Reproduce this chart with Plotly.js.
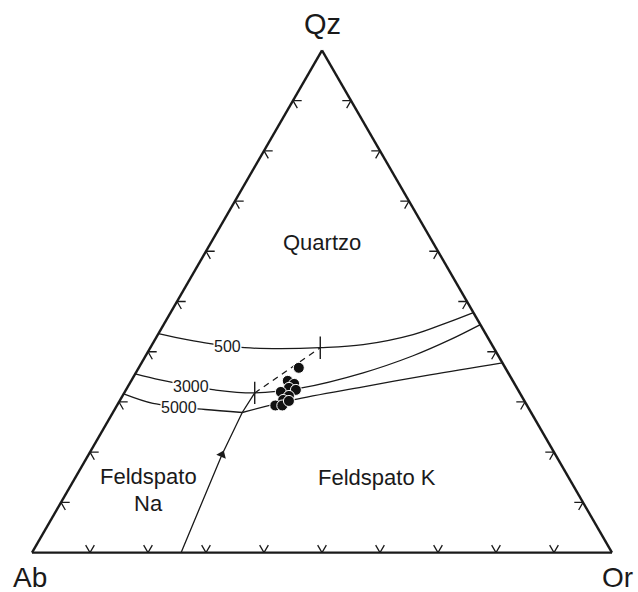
<!DOCTYPE html>
<html>
<head>
<meta charset="utf-8">
<script src="https://cdn.plot.ly/plotly-3.0.1.min.js"></script>
<style>
  html, body { margin: 0; padding: 0; background: #fff; }
  #chart { width: 638px; height: 592px; }
</style>
</head>
<body>
<div id="chart"></div>
<script>
// Qz-Ab-Or ternary, values in % (Ab = 100 - Qz - Or, filled by Plotly from sum)
const tickSteps = [10, 20, 30, 40, 50, 60, 70, 80, 90];

// isobaric minimum curves
const curve500Qz = [43.6, 42.4, 41.6, 40.8, 40.6, 40.8, 41.4, 43.4, 45.8, 47.8];
const curve500Or = [0, 5.5, 9.9, 16.3, 22.5, 29.3, 36.4, 44.0, 48.7, 52.2];
const curve3000Qz = [35.6, 34.4, 33.2, 32.4, 31.8, 32.8, 35.8, 39.2, 42.4, 45.4];
const curve3000Or = [0, 4.9, 10.8, 15.3, 22.5, 30.1, 39.2, 46.1, 50.9, 54.6];
const curve5000LeftQz = [31.6, 29.7, 29.1, 28.5, 27.9];
const curve5000LeftOr = [0, 6.0, 10.8, 15.6, 22.3];
const curve5000RightQz = [27.9, 30.4, 33.0, 35.4, 37.8];
const curve5000RightOr = [22.3, 29.8, 40.6, 50.9, 62.2];

// feldspar boundary (solid) and its extension (dashed)
const boundaryQz = [0, 19.5, 27.9, 31.8];
const boundaryOr = [25.7, 23.0, 22.3, 22.5];
const dashedQz = [31.8, 40.8];
const dashedOr = [22.5, 29.3];
const minimaQz = [40.8, 31.8];
const minimaOr = [29.3, 22.5];
const arrowQz = [19.5];
const arrowOr = [23.0];

// samples
const sampleQz = [36.8, 34.2, 33.6, 32.8, 32.4, 32.0, 31.2, 30.4, 29.3, 29.3, 30.2];
const sampleOr = [27.6, 27.0, 28.4, 27.9, 29.3, 26.9, 28.7, 28.1, 27.3, 28.5, 29.2];

const font = 'Liberation Sans, Arial, sans-serif';
const ink = '#1a1a1a';

// chevron ticks on each edge: two short stubs along the other grid directions
function buildChevrons(stub) {
    const a = [], b = [], c = [];
    const push = (pts) => {
        pts.forEach(p => { a.push(p[0]); b.push(p[1]); c.push(p[2]); });
        a.push(null); b.push(null); c.push(null);
    };
    tickSteps.forEach(t => {
        // bottom edge (Qz = 0)
        push([[stub, 100 - t, t - stub], [0, 100 - t, t], [stub, 100 - t - stub, t]]);
        // left edge (Or = 0)
        push([[t, 100 - t - stub, stub], [t, 100 - t, 0], [t - stub, 100 - t, stub]]);
        // right edge (Ab = 0)
        push([[t, stub, 100 - t - stub], [t, 0, 100 - t], [t - stub, stub, 100 - t]]);
    });
    return { a, b, c };
}

const chev = buildChevrons(1.5);

function curve(qz, or, opts) {
    return Object.assign({
        type: 'scatterternary',
        mode: 'lines',
        a: qz,
        c: or,
        line: { color: ink, width: 1.3, shape: 'spline', smoothing: 1 },
        hoverinfo: 'skip'
    }, opts || {});
}

const traces = [
    {
        type: 'scatterternary', mode: 'lines',
        a: chev.a, b: chev.b, c: chev.c,
        line: { color: ink, width: 1.3 },
        connectgaps: false, hoverinfo: 'skip'
    },
    curve(curve500Qz, curve500Or),
    curve(curve3000Qz, curve3000Or),
    curve(curve5000LeftQz, curve5000LeftOr),
    curve(curve5000RightQz, curve5000RightOr),
    curve(boundaryQz, boundaryOr, { line: { color: ink, width: 1.3 } }),
    curve(dashedQz, dashedOr, { line: { color: ink, width: 1.3, dash: '6px,5px' } }),
    {
        type: 'scatterternary', mode: 'markers',
        a: minimaQz, c: minimaOr,
        marker: { symbol: 'line-ns-open', size: 16, color: ink, line: { color: ink, width: 1.4 } },
        hoverinfo: 'skip'
    },
    {
        type: 'scatterternary', mode: 'markers',
        a: arrowQz, c: arrowOr,
        marker: { symbol: 'triangle-up', size: 9, color: ink, angle: 23 },
        hoverinfo: 'skip'
    },
    {
        type: 'scatterternary', mode: 'markers',
        a: sampleQz, c: sampleOr,
        marker: { symbol: 'circle', size: 11, color: '#111', line: { color: '#fff', width: 1 } }
    }
];

const axisStyle = {
    showgrid: false,
    showticklabels: false,
    ticks: '',
    linecolor: ink,
    linewidth: 2.4,
    title: { text: '' }
};

// label positions in pixels of the 638x592 frame, converted to paper units
const L = 32, T = 50, W = 580, H = 503;
function label(text, px, py, size, bg, yanchor) {
    return {
        text: text,
        xref: 'paper', yref: 'paper',
        x: (px - L) / W, y: (T + H - py) / H,
        xanchor: 'center', yanchor: yanchor || 'middle',
        showarrow: false,
        font: { family: font, size: size, color: ink },
        bgcolor: bg ? '#fff' : 'rgba(0,0,0,0)',
        borderpad: 0
    };
}

const layout = {
    width: 638,
    height: 592,
    margin: { l: L, r: 638 - L - W, t: T, b: 592 - T - H },
    paper_bgcolor: '#fff',
    showlegend: false,
    ternary: {
        sum: 100,
        bgcolor: '#fff',
        aaxis: axisStyle,
        baxis: axisStyle,
        caxis: axisStyle
    },
    annotations: [
        label('Qz', 322, 24, 29),
        label('Ab', 30, 577, 28),
        label('Or', 617, 577, 28),
        label('Quartzo', 322, 242, 22),
        label('Feldspato K', 377, 477, 22),
        label('Feldspato', 148, 490, 22, false, 'bottom'),
        label('Na', 148, 490, 22, false, 'top'),
        label('500', 227, 346, 16, true),
        label('3000', 191, 386, 16, true),
        label('5000', 179, 407, 16, true)
    ]
};

Plotly.newPlot('chart', traces, layout, { displayModeBar: false, staticPlot: true });
</script>
</body>
</html>
